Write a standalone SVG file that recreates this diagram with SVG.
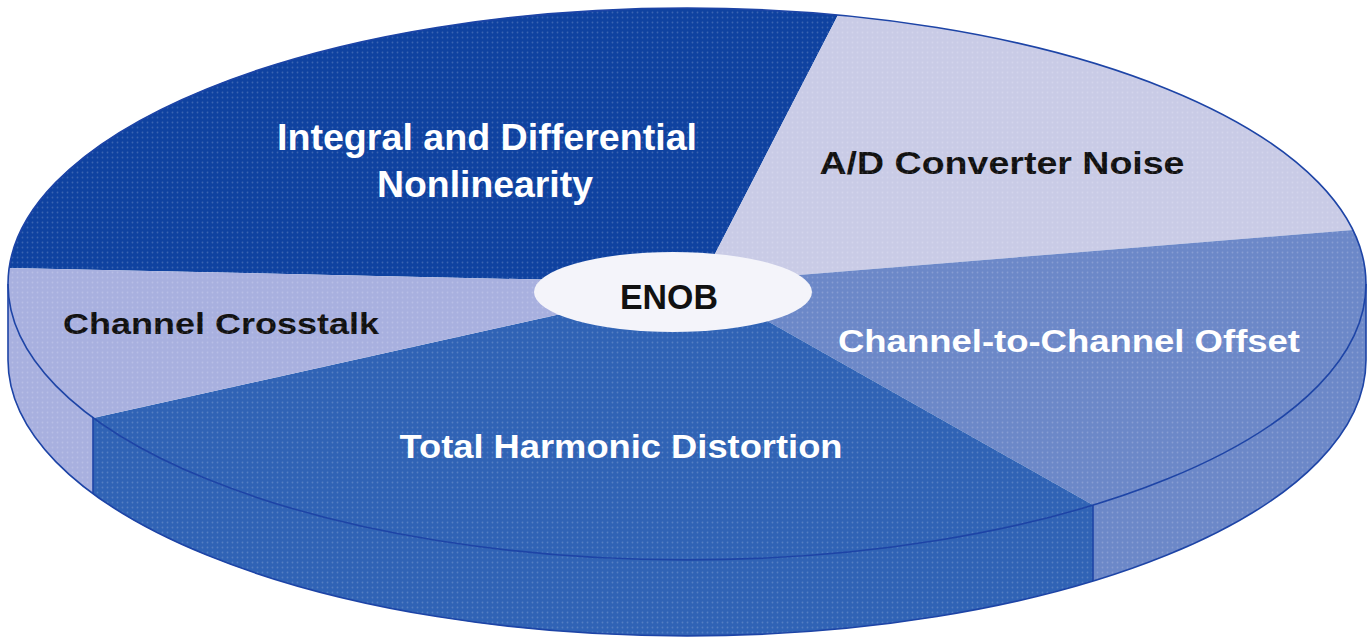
<svg xmlns="http://www.w3.org/2000/svg" width="1367" height="640" viewBox="0 0 1367 640">
  <style>
    .lbl { font-family: "Liberation Sans", Arial, sans-serif; font-weight: bold; text-anchor: middle; }
    .w { fill: #ffffff; }
    .k { fill: #111111; }
    .edge { fill: none; stroke: #1d44a6; stroke-width: 1.6; }
    .integral { fill: #0f42a0; }
    .adnoise { fill: #c9cbe6; }
    .offset { fill: #6c88c8; }
    .thd { fill: #3063b5; }
    .crosstalk { fill: #a8b0df; }
  </style>
  <defs>
    <!-- halftone texture laid over the flat slice colours -->
    <pattern id="dots" width="5" height="5" patternUnits="userSpaceOnUse">
      <circle cx="2.5" cy="2.5" r="0.9" fill="#ffffff" fill-opacity="0.18"/>
    </pattern>
  </defs>
  <rect width="1367" height="640" fill="#ffffff"/>

  <!-- side walls (extruded rim, 76px deep) -->
  <g id="rim">
    <path class="crosstalk" d="M 93,418 A 679 276 0 0 1 8,284 L 8,360 A 679 276 0 0 0 93,494 Z"/>
    <path class="thd" d="M 93,418 A 679 276 0 0 0 1093,505 L 1093,581 A 679 276 0 0 1 93,494 Z"/>
    <path class="offset" d="M 1093,505 A 679 276 0 0 0 1366,284 L 1366,360 A 679 276 0 0 1 1093,581 Z"/>
  </g>

  <!-- top face slices -->
  <g id="slice-integral">
    <path class="integral" d="M 700,283 L 838,15 A 679 276 0 0 0 9,268 Z"/>
    <text class="lbl w" x="487" y="150" font-size="37" textLength="420" lengthAdjust="spacingAndGlyphs">Integral and Differential</text>
    <text class="lbl w" x="485" y="197" font-size="37" textLength="216" lengthAdjust="spacingAndGlyphs">Nonlinearity</text>
  </g>
  <g id="slice-adnoise">
    <path class="adnoise" d="M 700,283 L 1353,230 A 679 276 0 0 0 838,15 Z"/>
    <text class="lbl k" x="1002" y="174" font-size="31" textLength="365" lengthAdjust="spacingAndGlyphs">A/D Converter Noise</text>
  </g>
  <g id="slice-offset">
    <path class="offset" d="M 700,283 L 1093,505 A 679 276 0 0 0 1353,230 Z"/>
    <text class="lbl w" x="1069" y="352" font-size="31" textLength="462" lengthAdjust="spacingAndGlyphs">Channel-to-Channel Offset</text>
  </g>
  <g id="slice-thd">
    <path class="thd" d="M 700,283 L 93,418 A 679 276 0 0 0 1093,505 Z"/>
    <text class="lbl w" x="621" y="458" font-size="33" textLength="443" lengthAdjust="spacingAndGlyphs">Total Harmonic Distortion</text>
  </g>
  <g id="slice-crosstalk">
    <path class="crosstalk" d="M 700,283 L 9,268 A 679 276 0 0 0 93,418 Z"/>
    <text class="lbl k" x="221" y="334" font-size="30" textLength="316" lengthAdjust="spacingAndGlyphs">Channel Crosstalk</text>
  </g>

  <!-- texture over the whole pie -->
  <path fill="url(#dots)" d="M 8,284 A 679 276 0 0 1 1366,284 L 1366,360 A 679 276 0 0 1 8,360 Z"/>

  <!-- outlines -->
  <g id="edges">
    <path class="edge" d="M 8,284 A 679 276 0 0 1 1366,284"/>
    <path class="edge" d="M 8,284 A 679 276 0 0 0 1366,284"/>
    <path class="edge" d="M 8,284 L 8,360 A 679 276 0 0 0 1366,360 L 1366,284"/>
    <path class="edge" d="M 93,418 L 93,494 M 1093,505 L 1093,581"/>
  </g>

  <g id="enob">
    <ellipse cx="673" cy="292" rx="139" ry="40" fill="#f4f4fa"/>
    <text class="lbl k" x="669" y="309" font-size="35" textLength="98" lengthAdjust="spacingAndGlyphs">ENOB</text>
  </g>
</svg>
